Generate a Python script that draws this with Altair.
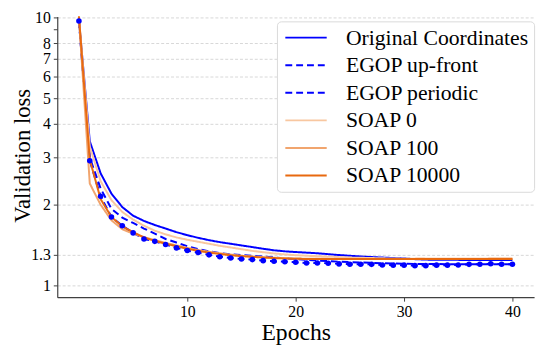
import altair as alt
import pandas as pd

epochs = list(range(41))

series_names = ["Original Coordinates", "EGOP up-front", "EGOP periodic",
                "SOAP 0", "SOAP 100", "SOAP 10000"]
series_colors = ["#0000ff", "#0000ff", "#0000ff", "#f8c7a0", "#f1a56e", "#e8690f"]
series_dashes = [[1, 0], [7, 4], [7, 4], [1, 0], [1, 0], [1, 0]]

orig = [9.8, 3.45, 2.62, 2.2, 1.96, 1.82, 1.74, 1.68, 1.63, 1.58, 1.54, 1.505, 1.475,
        1.45, 1.43, 1.41, 1.39, 1.37, 1.352, 1.34, 1.332, 1.325, 1.318, 1.308, 1.298,
        1.29, 1.282, 1.276, 1.27, 1.265, 1.26, 1.253, 1.248, 1.246, 1.245, 1.245,
        1.244, 1.244, 1.243, 1.243, 1.243]
upfront = [9.7, 3.0, 2.3, 1.93, 1.79, 1.71, 1.63, 1.56, 1.49, 1.445, 1.40, 1.365, 1.34,
           1.32, 1.305, 1.297, 1.29, 1.28, 1.272, 1.262, 1.254, 1.245, 1.238, 1.232,
           1.226, 1.222, 1.218, 1.214, 1.21, 1.207, 1.205, 1.203, 1.202, 1.201, 1.2,
           1.2, 1.2, 1.2, 1.2, 1.2, 1.2]
periodic = [9.7, 2.92, 2.15, 1.80, 1.67, 1.57, 1.49, 1.46, 1.42, 1.38, 1.35, 1.326, 1.30,
            1.28, 1.265, 1.255, 1.248, 1.237, 1.23, 1.226, 1.22, 1.213, 1.212, 1.21,
            1.203, 1.2, 1.2, 1.198, 1.192, 1.19, 1.19, 1.185, 1.185, 1.19, 1.19, 1.192,
            1.198, 1.2, 1.205, 1.2, 1.2]
soap0 = [10.0, 3.3, 2.45, 2.08, 1.88, 1.76, 1.67, 1.60, 1.55, 1.51, 1.48, 1.455, 1.43,
         1.405, 1.385, 1.365, 1.345, 1.33, 1.316, 1.305, 1.296, 1.29, 1.285, 1.28, 1.275,
         1.27, 1.268, 1.265, 1.262, 1.26, 1.258, 1.257, 1.256, 1.256, 1.255, 1.255,
         1.255, 1.255, 1.255, 1.255, 1.255]
soap100 = [10.0, 2.4, 2.0, 1.75, 1.62, 1.56, 1.515, 1.475, 1.44, 1.41, 1.38, 1.355, 1.335,
           1.318, 1.303, 1.29, 1.282, 1.275, 1.268, 1.264, 1.26, 1.258, 1.257, 1.256,
           1.256, 1.255, 1.255, 1.255, 1.255, 1.256, 1.256, 1.256, 1.257, 1.257, 1.257,
           1.258, 1.258, 1.258, 1.259, 1.259, 1.26]
soap10000 = [10.1, 2.95, 2.1, 1.8, 1.66, 1.58, 1.51, 1.465, 1.43, 1.40, 1.37, 1.345, 1.325,
             1.31, 1.295, 1.285, 1.278, 1.27, 1.265, 1.26, 1.257, 1.255, 1.254, 1.254,
             1.254, 1.254, 1.254, 1.254, 1.254, 1.254, 1.254, 1.254, 1.254, 1.254, 1.254,
             1.254, 1.254, 1.254, 1.254, 1.254, 1.254]

y_tick_values = [1, 1.3, 2, 3, 4, 5, 6, 7, 8, 9, 10]
x_tick_values = [10, 20, 30, 40]

rows = []
for name, vals in zip(series_names,
                      [orig, upfront, periodic, soap0, soap100, soap10000]):
    for e, v in zip(epochs, vals):
        rows.append({"epoch": e, "loss": v, "series": name})
df = pd.DataFrame(rows)

FONT = "Liberation Serif"
LINE_PATH = "M-2,0L2,0"

legend = alt.Legend(
    title=None, orient="none", legendX=223, legendY=5,
    symbolType=LINE_PATH, symbolSize=441, symbolStrokeWidth=2,
    labelFont=FONT, labelFontSize=22, labelColor="black", labelLimit=0,
    rowPadding=5, padding=5, symbolOffset=13, labelOffset=29,
    strokeColor="#d9d9d9", fillColor="white", cornerRadius=4,
)

x_enc = alt.X("epoch:Q",
              scale=alt.Scale(domain=[-2, 42], nice=False, zero=False),
              axis=alt.Axis(values=x_tick_values, title="Epochs", grid=False,
                            titleY=43, titleBaseline="alphabetic"))
y_enc = alt.Y("loss:Q",
              scale=alt.Scale(type="log", domain=[0.9034, 10.085], nice=False),
              axis=alt.Axis(values=y_tick_values, title="Validation loss",
                            labelOverlap=False,
                            labelExpr="datum.value === 9 ? '' : datum.label",
                            gridOpacity={"condition": {"test": "datum.value === 9", "value": 0}, "value": 1},
                            titleFontSize=23,
                            titleX=-28, titleY=141, titleBaseline="alphabetic"))

lines = alt.Chart(df).mark_line(strokeWidth=2).encode(
    x=x_enc, y=y_enc,
    color=alt.Color("series:N",
                    scale=alt.Scale(domain=series_names, range=series_colors),
                    legend=legend),
    strokeDash=alt.StrokeDash("series:N",
                              scale=alt.Scale(domain=series_names, range=series_dashes),
                              legend=legend),
    order=alt.Order("epoch:Q"),
)

points = alt.Chart(df[df["series"] == "EGOP periodic"]).mark_circle(
    size=32, opacity=1, color="#0000ff").encode(x="epoch:Q", y="loss:Q")

chart = alt.layer(lines, points).properties(
    width=484, height=285,
    autosize=alt.AutoSizeParams(type="none"),
    padding={"left": 50, "top": 6, "right": 6, "bottom": 50},
).configure_view(stroke=None).configure_axis(
    labelFont=FONT, labelFontSize=16, labelColor="black",
    titleFont=FONT, titleFontSize=24, titleFontWeight="normal", titleColor="black",
    domainColor="#404040", domainWidth=1.2, tickColor="#404040", tickSize=4,
    labelPadding=3, gridColor="#cccccc", gridDash=[3, 2], gridWidth=0.8,
)

chart.save("out.html", embed_options={"renderer": "svg", "actions": False})
